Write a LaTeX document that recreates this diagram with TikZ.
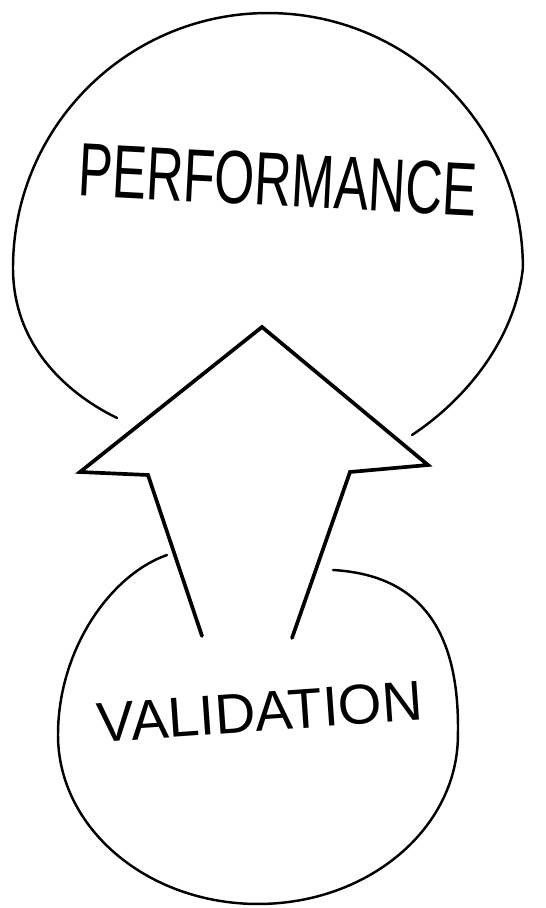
\documentclass[tikz,border=0pt]{standalone}
\usepackage{fontspec}
\setmainfont{Liberation Sans}
\usepackage{tikz}
\usetikzlibrary{calc}

\begin{document}
\begin{tikzpicture}[x=0.02cm,y=-0.02cm]
  \tikzstyle{blob}=[line width=1.4pt,line join=round,line cap=round]
  \tikzstyle{bigarrow}=[line width=2.1pt,line join=miter,line cap=round]
  \tikzstyle{hand}=[inner sep=0pt]
  \useasboundingbox (0,0) rectangle (546,908);
  % upper blob
  \draw[blob] (117,418) .. controls (60,390) and (13,340) .. (13,268)
    arc[start angle=180,end angle=0,radius=5.1cm]
    .. controls (515,340) and (465,400) .. (412,435);
  \node[hand,rotate=-3,xscale=0.68] (perf) at (278,180) {\fontsize{43}{43}\selectfont PERFORMANCE};
  % lower blob
  \draw[blob] (167,555) .. controls (110,575) and (58,650) .. (58,735)
    arc[start angle=180,end angle=360,x radius=4cm,y radius=3.38cm]
    .. controls (460,630) and (420,575) .. (333,570);
  \node[hand,rotate=4] (vali) at (260,712) {\fontsize{32}{32}\selectfont VALIDATION};
  % arrow
  \coordinate (apex) at (262,327);
  \coordinate (lbarb) at (80,472);
  \coordinate (lin) at (148,475);
  \coordinate (lfoot) at (202,636);
  \coordinate (rbarb) at (428,465);
  \coordinate (rin) at (350,472);
  \coordinate (rfoot) at (292,638);
  \draw[bigarrow] (lfoot) -- (lin) -- (lbarb) -- (apex) -- (rbarb) -- (rin) -- (rfoot);
\end{tikzpicture}
\end{document}
